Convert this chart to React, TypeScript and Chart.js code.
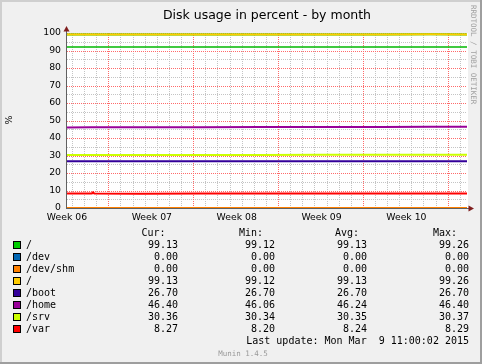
import { useEffect, useRef } from "react";
import { Chart, registerables } from "chart.js";

Chart.register(...registerables);

// ---------- data ----------
const TITLE = "Disk usage in percent - by month";
const Y_LABEL = "%";
const SIDE_TEXT = "RRDTOOL / TOBI OETIKER";
const FOOTER = "Munin 1.4.5";
const LAST_UPDATE = "Last update: Mon Mar  9 11:00:02 2015";

const seriesNames = ["/", "/dev", "/dev/shm", "/", "/boot", "/home", "/srv", "/var"];
const seriesColors = ["#00CC00", "#0066B3", "#FF8000", "#FFCC00", "#330099", "#990099", "#CCFF00", "#FF0000"];

// sample times, in days since the start of the 33-day window
const sampleDays = [0, 2.05, 2.15, 2.25, 6, 11, 16, 21, 26, 30, 33];
const rootA = [99.12, 99.13, 99.13, 99.13, 99.12, 99.13, 99.13, 99.14, 99.13, 99.26, 99.13];
const devVals = [0, 0, 0, 0, 0, 0, 0, 0, 0, 0, 0];
const devShmVals = [0, 0, 0, 0, 0, 0, 0, 0, 0, 0, 0];
const rootB = [99.12, 99.13, 99.13, 99.13, 99.12, 99.13, 99.13, 99.14, 99.13, 99.26, 99.13];
const bootVals = [26.7, 26.7, 26.7, 26.7, 26.7, 26.7, 26.7, 26.7, 26.7, 26.7, 26.7];
const homeVals = [46.06, 46.08, 46.08, 46.08, 46.12, 46.18, 46.24, 46.3, 46.35, 46.38, 46.4];
const srvVals = [30.34, 30.34, 30.34, 30.34, 30.35, 30.35, 30.35, 30.36, 30.36, 30.37, 30.36];
const varVals = [8.22, 8.24, 8.9, 8.25, 8.2, 8.23, 8.24, 8.25, 8.26, 8.29, 8.27];
const seriesValues = [rootA, devVals, devShmVals, rootB, bootVals, homeVals, srvVals, varVals];

const warningLevel = 92;

const curStats = [99.13, 0, 0, 99.13, 26.7, 46.4, 30.36, 8.27];
const minStats = [99.12, 0, 0, 99.12, 26.7, 46.06, 30.34, 8.2];
const avgStats = [99.13, 0, 0, 99.13, 26.7, 46.24, 30.35, 8.24];
const maxStats = [99.26, 0, 0, 99.26, 26.7, 46.4, 30.37, 8.29];

const xMinDay = 0;
const xMaxDay = 33;
const weekTickDays = [0, 7, 14, 21, 28];
const weekLabels = ["Week 06", "Week 07", "Week 08", "Week 09", "Week 10"];
const minorGridDays = [0.41, 1.41, 2.41, 4.41, 5.41, 6.41, 7.41, 8.41, 9.41, 11.41, 12.41, 13.41, 14.41, 15.41, 16.41, 18.41, 19.41, 20.41, 21.41, 22.41, 23.41, 25.41, 26.41, 27.41, 28.41, 29.41, 30.41, 32.41];
const majorGridDays = [3.41, 10.41, 17.41, 24.41, 31.41];
const yMin = 0;
const yMax = 100;
const yStep = 10;
const minorGridY = [5, 15, 25, 35, 45, 55, 65, 75, 85, 95];
const majorGridY = [10, 20, 30, 40, 50, 60, 70, 80, 90, 100];

// ---------- styles ----------
const SANS = "'DejaVu Sans', 'Liberation Sans', sans-serif";
const MONO = "'DejaVu Sans Mono', 'Liberation Mono', monospace";
const MAJOR_GRID = "#FF6A6A";
const MINOR_GRID = "#C4C4C4";

const munin = {
  id: "muninFrame",
  beforeDraw(chart: any) {
    const { ctx, chartArea: a } = chart;
    const W = chart.width;
    const H = chart.height;
    ctx.save();
    ctx.fillStyle = "#F0F0F0";
    ctx.fillRect(0, 0, W, H);
    ctx.fillStyle = "#CFCFCF";
    ctx.fillRect(0, 0, W, 2);
    ctx.fillRect(0, 0, 2, H);
    ctx.fillStyle = "#9E9E9E";
    ctx.fillRect(0, H - 2, W, 2);
    ctx.fillRect(W - 2, 0, 2, H);
    ctx.fillStyle = "#FFFFFF";
    ctx.fillRect(a.left, a.top, a.right - a.left + 1, a.bottom - a.top + 1);
    ctx.restore();
  },
  beforeDatasetsDraw(chart: any) {
    const { ctx, chartArea: a, scales } = chart;
    const xs = scales.x;
    const ys = scales.y;
    ctx.save();
    ctx.lineWidth = 1;
    ctx.setLineDash([1, 1]);
    const vline = (d: number, color: string) => {
      const px = Math.round(xs.getPixelForValue(d)) + 0.5;
      ctx.strokeStyle = color;
      ctx.beginPath();
      ctx.moveTo(px, a.top);
      ctx.lineTo(px, a.bottom);
      ctx.stroke();
    };
    const hline = (v: number, color: string) => {
      const py = Math.round(ys.getPixelForValue(v)) + 0.5;
      ctx.strokeStyle = color;
      ctx.beginPath();
      ctx.moveTo(a.left, py);
      ctx.lineTo(a.right, py);
      ctx.stroke();
    };
    minorGridDays.forEach((d) => vline(d, MINOR_GRID));
    minorGridY.forEach((v) => hline(v, MINOR_GRID));
    majorGridDays.forEach((d) => vline(d, MAJOR_GRID));
    majorGridY.forEach((v) => hline(v, MAJOR_GRID));
    ctx.restore();
  },
  afterDatasetsDraw(chart: any) {
    const { ctx, chartArea: a } = chart;
    ctx.save();
    ctx.strokeStyle = "#606060";
    ctx.lineWidth = 1;
    ctx.beginPath();
    ctx.moveTo(a.left - 0.5, a.bottom + 1);
    ctx.lineTo(a.left - 0.5, a.top - 2);
    ctx.moveTo(a.left - 1, a.bottom + 0.5);
    ctx.lineTo(a.right + 2, a.bottom + 0.5);
    ctx.stroke();
    ctx.fillStyle = "#7F1E1E";
    ctx.beginPath();
    ctx.moveTo(a.left - 0.5, a.top - 7);
    ctx.lineTo(a.left - 3.5, a.top - 1.5);
    ctx.lineTo(a.left + 2.5, a.top - 1.5);
    ctx.closePath();
    ctx.fill();
    ctx.beginPath();
    ctx.moveTo(a.right + 7, a.bottom + 0.5);
    ctx.lineTo(a.right + 1.5, a.bottom - 2.5);
    ctx.lineTo(a.right + 1.5, a.bottom + 3.5);
    ctx.closePath();
    ctx.fill();
    ctx.restore();
  },
  afterDraw(chart: any) {
    const { ctx, chartArea: a } = chart;
    ctx.save();
    ctx.fillStyle = "#000";
    ctx.font = `12.5px ${SANS}`;
    ctx.textAlign = "center";
    ctx.textBaseline = "alphabetic";
    ctx.fillText(TITLE, (a.left + a.right) / 2, 18.5);
    ctx.save();
    ctx.translate(10, 120);
    ctx.rotate(-Math.PI / 2);
    ctx.font = `9.5px ${SANS}`;
    ctx.textBaseline = "middle";
    ctx.fillText(Y_LABEL, 0, 0);
    ctx.restore();
    ctx.save();
    ctx.translate(473, 5);
    ctx.rotate(Math.PI / 2);
    ctx.font = `7.5px ${MONO}`;
    ctx.fillStyle = "#A0A0A0";
    ctx.textAlign = "left";
    ctx.textBaseline = "middle";
    ctx.fillText(SIDE_TEXT, 0, 0);
    ctx.restore();
    ctx.font = `10px ${MONO}`;
    ctx.fillStyle = "#000";
    ctx.textAlign = "left";
    const headerBase = 236;
    ctx.fillText("Cur:", 141.5, headerBase);
    ctx.fillText("Min:", 239, headerBase);
    ctx.fillText("Avg:", 335, headerBase);
    ctx.fillText("Max:", 433, headerBase);
    seriesNames.forEach((name, i) => {
      const base = 248 + 12 * i;
      ctx.fillStyle = "#000";
      ctx.fillRect(13, base - 7, 8, 8);
      ctx.fillStyle = seriesColors[i];
      ctx.fillRect(14, base - 6, 6, 6);
      ctx.fillStyle = "#000";
      ctx.textAlign = "left";
      ctx.fillText(name, 26, base);
      ctx.textAlign = "right";
      ctx.fillText(curStats[i].toFixed(2), 178, base);
      ctx.fillText(minStats[i].toFixed(2), 275, base);
      ctx.fillText(avgStats[i].toFixed(2), 367, base);
      ctx.fillText(maxStats[i].toFixed(2), 469, base);
    });
    ctx.textAlign = "right";
    ctx.fillText(LAST_UPDATE, 469, 248 + 12 * seriesNames.length);
    ctx.font = `7.5px ${MONO}`;
    ctx.fillStyle = "#999999";
    ctx.textAlign = "center";
    ctx.fillText(FOOTER, 243, 355.5);
    ctx.restore();
  },
};

export default function App() {
  const ref = useRef<HTMLCanvasElement>(null);
  useEffect(() => {
    const canvas = ref.current;
    if (!canvas) return;
    const datasets: any[] = seriesNames.map((name, i) => ({
      label: name,
      data: sampleDays.map((d, j) => ({ x: d, y: seriesValues[i][j] })),
      borderColor: seriesColors[i],
      backgroundColor: seriesColors[i],
      borderWidth: 2,
      pointRadius: 0,
      tension: 0,
      fill: false,
      order: seriesNames.length - i,
    }));
    datasets.push({
      label: "warning",
      data: [
        { x: xMinDay, y: warningLevel },
        { x: xMaxDay, y: warningLevel },
      ],
      borderColor: "#00B800",
      borderWidth: 1.3,
      pointRadius: 0,
      fill: false,
      order: 100,
    });
    const chart = new Chart(canvas, {
      type: "line",
      data: { datasets },
      plugins: [munin],
      options: {
        animation: false,
        responsive: false,
        devicePixelRatio: 1,
        events: [],
        layout: { padding: { left: 0, top: 33, right: 15, bottom: 0 } },
        plugins: { legend: { display: false }, tooltip: { enabled: false }, title: { display: false } },
        scales: {
          x: {
            type: "linear",
            position: "bottom",
            min: xMinDay,
            max: xMaxDay,
            afterBuildTicks: (s: any) => {
              s.ticks = weekTickDays.map((v) => ({ value: v }));
            },
            afterFit: (s: any) => {
              s.height = 156;
            },
            grid: { display: false, drawTicks: false },
            border: { display: false },
            ticks: {
              autoSkip: false,
              maxRotation: 0,
              padding: 4,
              color: "#000",
              font: { family: SANS, size: 9.3 },
              callback: (_v: any, i: number) => weekLabels[i],
            },
          },
          y: {
            type: "linear",
            min: yMin,
            max: yMax,
            afterFit: (s: any) => {
              s.width = 67;
            },
            grid: { display: false, drawTicks: false },
            border: { display: false },
            ticks: {
              stepSize: yStep,
              autoSkip: false,
              padding: 6,
              color: "#000",
              font: { family: SANS, size: 9.3 },
            },
          },
        },
      } as any,
    });
    return () => chart.destroy();
  }, []);
  return (
    <div style={{ position: "absolute", left: 0, top: 0, width: 482, height: 364 }}>
      <canvas ref={ref} width={482} height={364} style={{ display: "block", width: 482, height: 364 }} />
    </div>
  );
}
